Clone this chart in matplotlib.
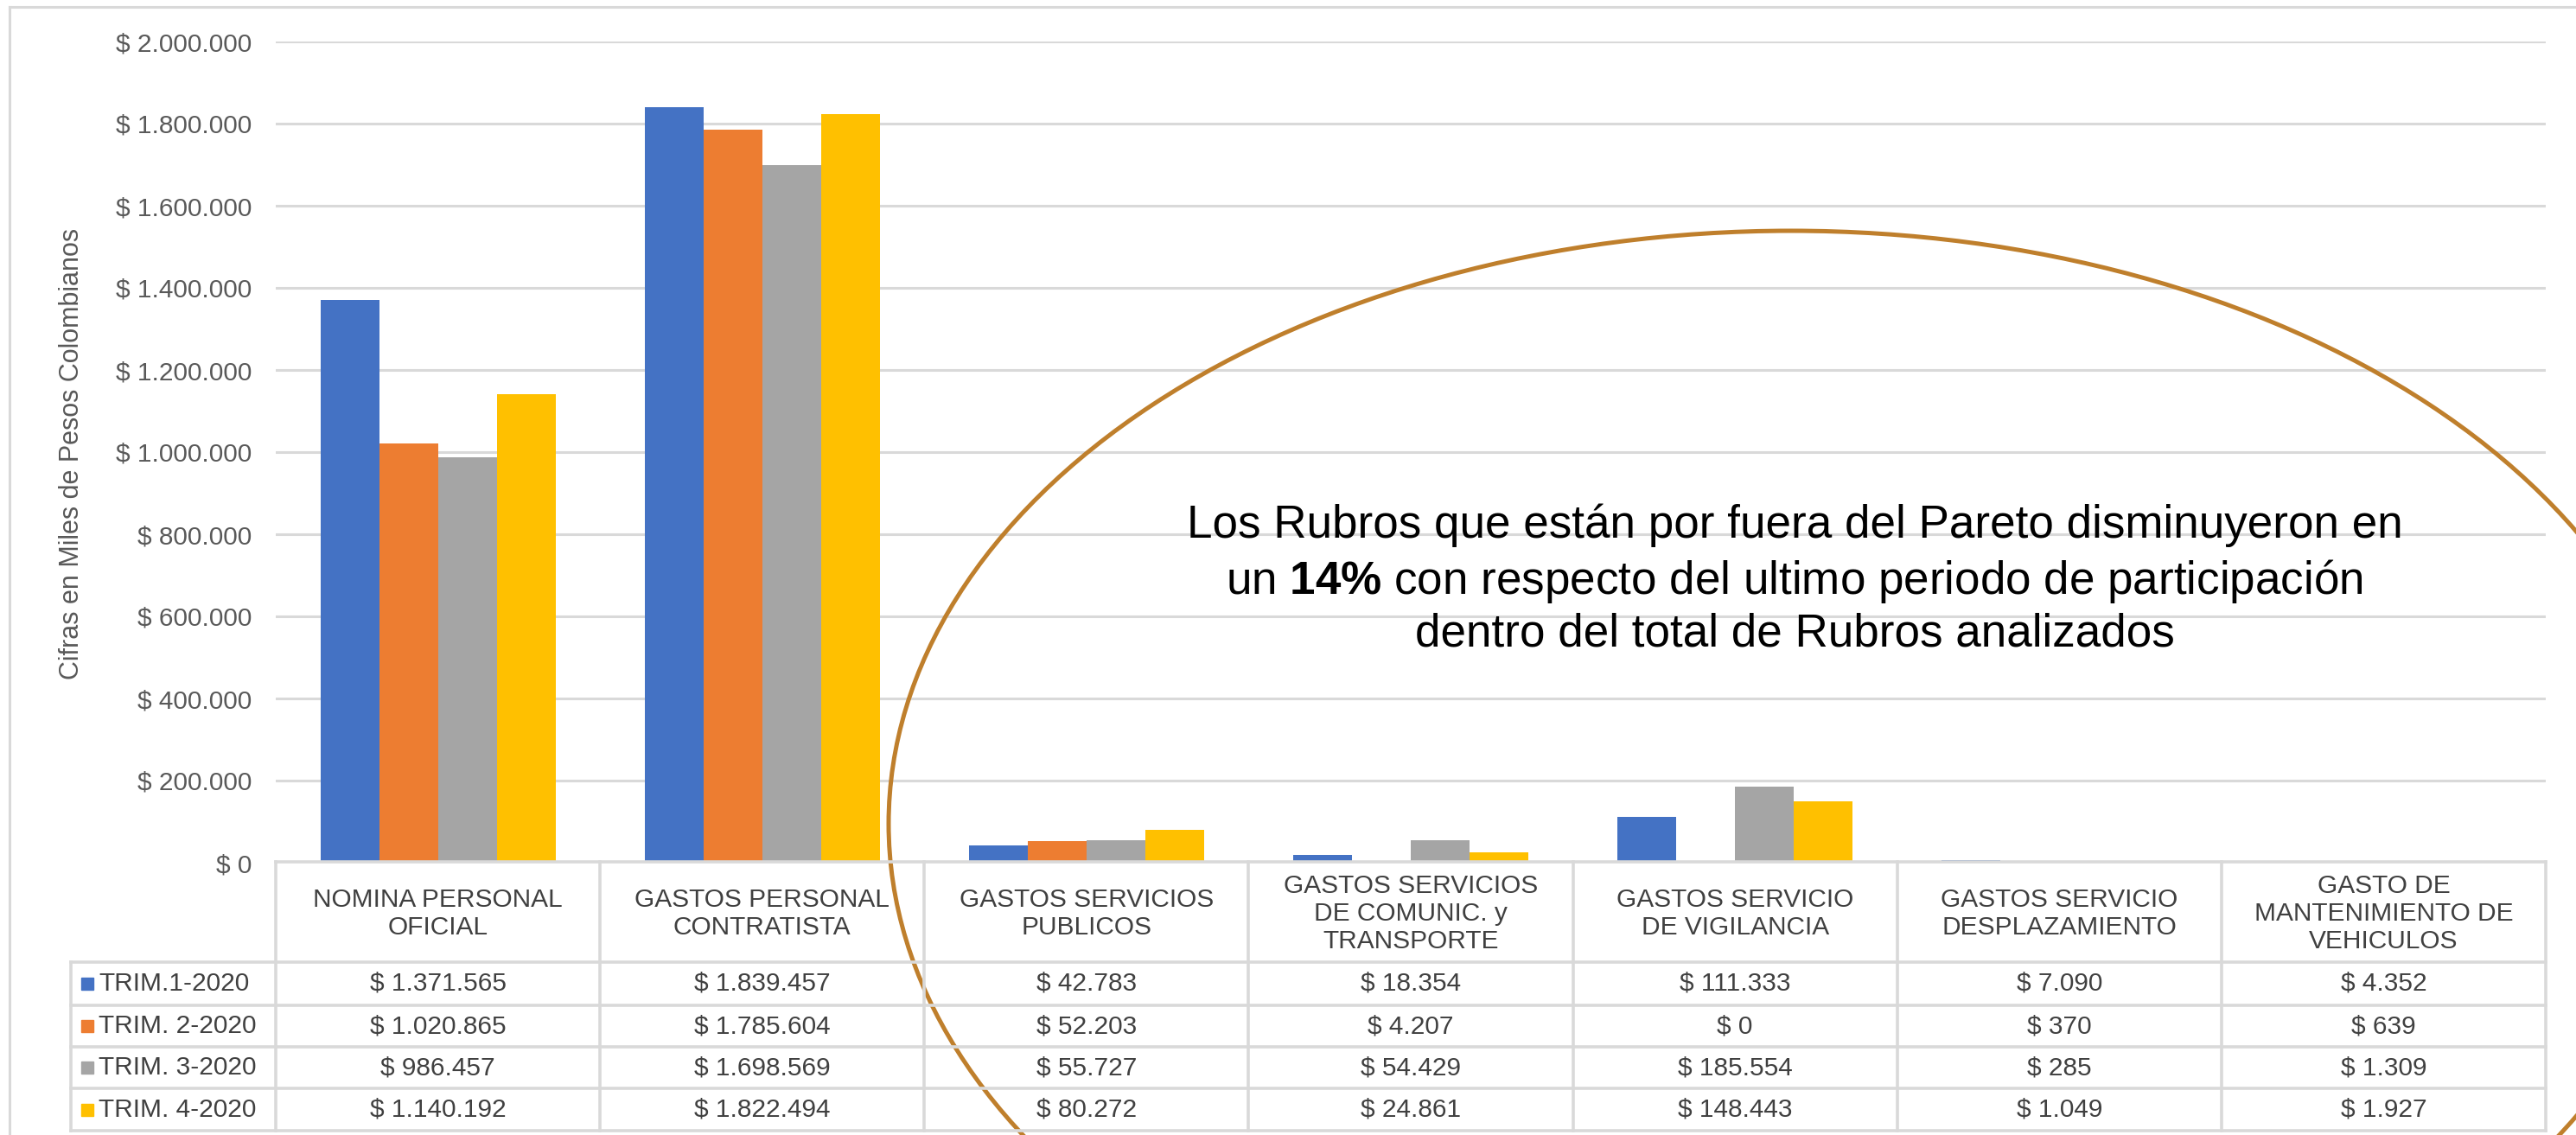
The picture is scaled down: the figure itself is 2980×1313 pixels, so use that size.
import numpy as np
import matplotlib
matplotlib.use("Agg")
import matplotlib.pyplot as plt
from matplotlib.patches import Ellipse

plt.rcParams['font.family'] = ['Liberation Sans', 'DejaVu Sans']
plt.rcParams['mathtext.fontset'] = 'custom'
plt.rcParams['mathtext.rm'] = 'Liberation Sans'
plt.rcParams['mathtext.bf'] = 'Liberation Sans:bold'

# data (miles de pesos)
categories = ["NOMINA PERSONAL\nOFICIAL", "GASTOS PERSONAL\nCONTRATISTA",
              "GASTOS SERVICIOS\nPUBLICOS", "GASTOS SERVICIOS\nDE COMUNIC. y\nTRANSPORTE",
              "GASTOS SERVICIO\nDE VIGILANCIA", "GASTOS SERVICIO\nDESPLAZAMIENTO",
              "GASTO DE\nMANTENIMIENTO DE\nVEHICULOS"]
series_names = ["TRIM.1-2020", "TRIM. 2-2020", "TRIM. 3-2020", "TRIM. 4-2020"]
trim1 = [1371565, 1839457, 42783, 18354, 111333, 7090, 4352]
trim2 = [1020865, 1785604, 52203, 4207, 0, 370, 639]
trim3 = [986457, 1698569, 55727, 54429, 185554, 285, 1309]
trim4 = [1140192, 1822494, 80272, 24861, 148443, 1049, 1927]
series = [trim1, trim2, trim3, trim4]
colors = ["#4472C4", "#ED7D31", "#A5A5A5", "#FFC000"]
y_ticks = [0, 200000, 400000, 600000, 800000, 1000000, 1200000, 1400000,
           1600000, 1800000, 2000000]

note_lines = ["Los Rubros que están por fuera del Pareto disminuyeron en",
              r"un $\mathbf{14\%}$ con respecto del ultimo periodo de participación",
              "dentro del total de Rubros analizados"]


def pesos(v):
    return "$ " + f"{v:,.0f}".replace(",", ".")


W, H = 2980, 1313
fig = plt.figure(figsize=(W / 100, H / 100), dpi=100)
fig.patch.set_facecolor("white")

# plot area in pixel terms
px_left, px_right, px_top, px_zero = 319, 2945, 48, 998
ax = fig.add_axes([px_left / W, (H - px_zero) / H,
                   (px_right - px_left) / W, (px_zero - px_top) / H])
ax.set_facecolor("none")

x = np.arange(len(categories))
bw = 0.1813
for i, (vals, c) in enumerate(zip(series, colors)):
    ax.bar(x + (i - 1.5) * bw, vals, width=bw, color=c, zorder=2)

ax.set_xlim(-0.5, len(categories) - 0.5)
ax.set_ylim(0, 2000000)
ax.set_yticks(y_ticks)
ax.set_yticklabels([pesos(v) for v in y_ticks], fontsize=21.5, color="#595959")
ax.tick_params(axis="y", length=0, pad=20)
ax.set_xticks([])
ax.yaxis.grid(True, color="#D9D9D9", linewidth=2.2, zorder=0)
ax.set_axisbelow(True)
for s in ax.spines.values():
    s.set_visible(False)

# overlay in pixel coordinates for table, notes, ellipse
ov = fig.add_axes([0, 0, 1, 1], zorder=5)
ov.set_xlim(0, W)
ov.set_ylim(H, 0)
ov.axis("off")
ov.patch.set_alpha(0)

line_c = "#D9D9D9"
lw_t = 2.6
# outer chart border
ov.plot([11, 11], [8, H], color=line_c, lw=2.2)
ov.plot([11, W], [8, 8], color=line_c, lw=2.2)

ncat = len(categories)
cell_w = (px_right - px_left) / ncat
col_x = [px_left + k * cell_w for k in range(ncat + 1)]
row_y = [997, 1113, 1163, 1211, 1259, 1308]
leg_left = 82

ov.plot([px_left, px_right], [row_y[0], row_y[0]], color=line_c, lw=lw_t)
for y in row_y[1:]:
    ov.plot([leg_left, px_right], [y, y], color=line_c, lw=lw_t)
ov.plot([leg_left, leg_left], [row_y[1], row_y[-1]], color=line_c, lw=lw_t)
for cx in col_x:
    ov.plot([cx, cx], [row_y[0], row_y[-1]], color=line_c, lw=lw_t)

txt_c = "#404040"
for k, name in enumerate(categories):
    ov.text(col_x[k] + cell_w / 2, (row_y[0] + row_y[1]) / 2 + 2, name,
            ha="center", va="center", fontsize=21.5, color=txt_c,
            linespacing=1.2, multialignment="center")

for r, (nm, vals, c) in enumerate(zip(series_names, series, colors)):
    yc = (row_y[r + 1] + row_y[r + 2]) / 2
    ov.plot([101], [yc], marker="s", markersize=9.5, color=c, linestyle="none")
    ov.text(114, yc, nm, ha="left", va="center", fontsize=21.5, color=txt_c)
    for k, v in enumerate(vals):
        ov.text(col_x[k] + cell_w / 2, yc, pesos(v), ha="center", va="center",
                fontsize=21.5, color=txt_c)

# y-axis title
ov.text(83, 525, "Cifras en Miles de Pesos Colombianos", rotation=90,
        ha="center", va="center", fontsize=22, color="#595959")

# note text, centred block
for yb, t in zip([622, 687, 748], note_lines):
    ov.text(2076, yb, t, ha="center", va="baseline", fontsize=38.2, color="black")

# ellipse highlighting the rubros outside the Pareto
ov.add_patch(Ellipse((2072, 953), 2088, 1372, fill=False,
                     edgecolor="#BF7F2C", linewidth=3.6))

fig.savefig("out.png", dpi=100, facecolor="white")
